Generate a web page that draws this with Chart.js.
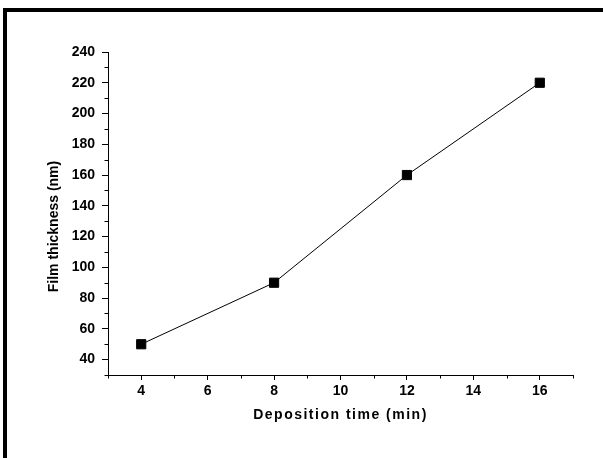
<!DOCTYPE html>
<html>
<head>
<meta charset="utf-8">
<script src="https://cdn.jsdelivr.net/npm/chart.js@4/dist/chart.umd.min.js"></script>
<style>
  html, body { margin: 0; padding: 0; background: #fff; }
  #wrap { position: relative; width: 603px; height: 458px; overflow: hidden; }
  #frame { position: absolute; left: 3px; top: 8px; right: -10px; bottom: -10px;
           border-top: 4px solid #000; border-left: 4px solid #000; pointer-events: none; }
  canvas { position: absolute; left: 0; top: 0; }
</style>
</head>
<body>
<div id="wrap">
  <canvas id="c" width="603" height="458"></canvas>
  <div id="frame"></div>
</div>
<script>
// Data
const depositionTime = [4, 8, 12, 16];          // min
const filmThickness = [50, 90, 160, 220];       // nm

// Axis tick values
const xMajorTicks = [4, 6, 8, 10, 12, 14, 16];
const xMinorTicks = [3, 5, 7, 9, 11, 13, 15, 17];
const yMajorTicks = [40, 60, 80, 100, 120, 140, 160, 180, 200, 220, 240];
const yMinorTicks = [30, 50, 70, 90, 110, 130, 150, 170, 190, 210, 230];

const xTitle = 'Deposition time (min)';
const yTitle = 'Film thickness (nm)';

const FONT = '"Liberation Sans", Arial, sans-serif';

const minorTicksPlugin = {
  id: 'minorTicks',
  afterDraw(chart) {
    const ctx = chart.ctx;
    const xs = chart.scales.x, ys = chart.scales.y;
    const area = chart.chartArea;
    ctx.save();
    ctx.strokeStyle = '#000';
    ctx.lineWidth = 1;
    ctx.beginPath();
    xMinorTicks.forEach(v => {
      const px = Math.round(xs.getPixelForValue(v)) + 0.5;
      ctx.moveTo(px, area.bottom);
      ctx.lineTo(px, area.bottom + 3.5);
    });
    yMinorTicks.forEach(v => {
      const py = Math.round(ys.getPixelForValue(v)) + 0.5;
      ctx.moveTo(area.left, py);
      ctx.lineTo(area.left - 3.5, py);
    });
    ctx.stroke();
    ctx.restore();
  }
};

// x title in the reference is slightly letter-spaced; the y title sits a bit below centre
const titleStylePlugin = {
  id: 'titleStyle',
  beforeDraw(chart) {
    Object.values(chart.scales).forEach(scale => {
      if (scale._titlePatched) return;
      const orig = scale.drawTitle;
      scale.drawTitle = function () {
        const ctx = this.ctx;
        ctx.save();
        if (this.axis === 'x') ctx.letterSpacing = '1.5px';
        if (this.axis === 'y') ctx.translate(0, 13);
        orig.call(this);
        ctx.restore();
      };
      scale._titlePatched = true;
    });
  }
};

new Chart(document.getElementById('c'), {
  type: 'line',
  data: {
    datasets: [{
      data: depositionTime.map((x, i) => ({ x: x, y: filmThickness[i] })),
      borderColor: '#000',
      borderWidth: 1,
      backgroundColor: '#000',
      pointStyle: 'rect',
      pointRadius: 6.5,
      pointBorderWidth: 1,
      pointBorderColor: '#000',
      pointBackgroundColor: '#000',
      tension: 0,
      fill: false
    }]
  },
  options: {
    responsive: false,
    animation: false,
    devicePixelRatio: 1,
    layout: { padding: { left: 0, right: 30, top: 52, bottom: 0 } },
    plugins: { legend: { display: false }, tooltip: { enabled: false } },
    scales: {
      x: {
        type: 'linear',
        min: 3, max: 17,
        afterBuildTicks: s => { s.ticks = xMajorTicks.map(v => ({ value: v })); },
        afterFit: s => { s.height = 83; },
        grid: { drawOnChartArea: false, drawTicks: true, tickLength: 5, tickColor: '#000', tickWidth: 1 },
        border: { display: true, color: '#000', width: 1 },
        ticks: { color: '#000', padding: 3, font: { family: FONT, size: 14, weight: 'bold' }, maxRotation: 0 },
        title: { display: true, text: xTitle, color: '#000',
                 font: { family: FONT, size: 14, weight: 'bold' }, padding: { top: 0, bottom: 34 } }
      },
      y: {
        type: 'linear',
        min: 30, max: 240,
        afterBuildTicks: s => { s.ticks = yMajorTicks.map(v => ({ value: v })); },
        afterFit: s => { s.width = 108; },
        grid: { drawOnChartArea: false, drawTicks: true, tickLength: 6, tickColor: '#000', tickWidth: 1 },
        border: { display: true, color: '#000', width: 1 },
        ticks: { color: '#000', padding: 7, font: { family: FONT, size: 14, weight: 'bold' } },
        title: { display: true, text: yTitle, color: '#000',
                 font: { family: FONT, size: 14, weight: 'bold' }, padding: { top: 46, bottom: 0 } }
      }
    }
  },
  plugins: [minorTicksPlugin, titleStylePlugin]
});
</script>
</body>
</html>
